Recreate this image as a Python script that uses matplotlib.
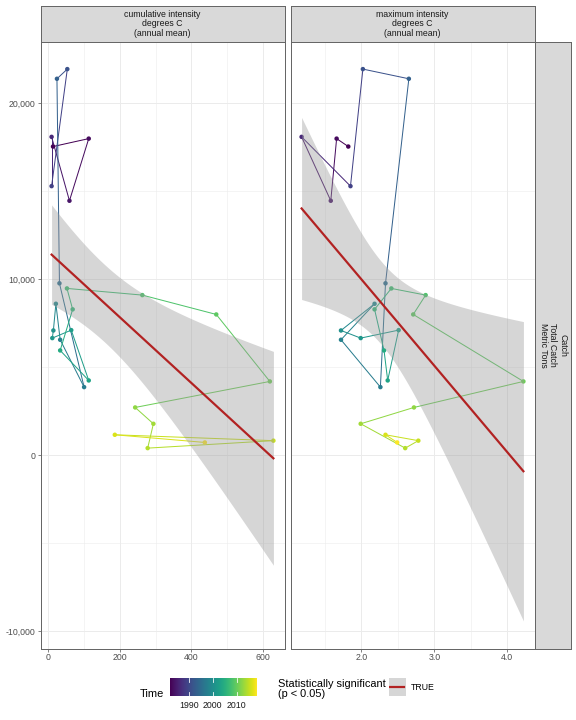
import numpy as np
import matplotlib
matplotlib.use('Agg')
import matplotlib.pyplot as plt
from matplotlib.collections import LineCollection
from matplotlib.colors import Normalize
from matplotlib.ticker import FuncFormatter, FixedLocator

plt.rcParams['font.family'] = ['Liberation Sans', 'DejaVu Sans']

# 数据（按时间顺序）
years = [1982, 1983, 1984, 1986, 1989, 1991, 1993, 1995, 1997, 1998, 1999, 2000, 2001,
         2002, 2003, 2004, 2006, 2007, 2008, 2009, 2010, 2012, 2013, 2014, 2015, 2016, 2018]
catch = [17550, 18000, 14470, 18100, 15300, 21950, 21400, 9780, 3883, 6572, 8617, 7100, 6667,
         7120, 4261, 5966, 8300, 9489, 9110, 8011, 4205, 2727, 1799, 416, 840, 1174, 739]
cum_intensity = [13, 113, 59, 9, 9, 53, 24, 31, 100, 33, 21, 14, 11,
                 64, 113, 33, 68, 52, 263, 470, 620, 243, 294, 278, 630, 186, 438]
max_intensity = [1.82, 1.66, 1.58, 1.18, 1.85, 2.02, 2.65, 2.33, 2.26, 1.72, 2.18, 1.72, 1.99,
                 2.51, 2.36, 2.31, 2.18, 2.41, 2.88, 2.71, 4.22, 2.72, 1.99, 2.60, 2.78, 2.33, 2.49]

panel_titles = ['cumulative intensity\ndegrees C\n(annual mean)',
                'maximum intensity\ndegrees C\n(annual mean)']
row_title = 'Catch\nTotal Catch\nMetric Tons'
x_ticks = [[0, 200, 400, 600], [2.0, 3.0, 4.0]]
x_minor = [[100, 300, 500], [1.5, 2.5, 3.5]]
y_ticks = [-10000, 0, 10000, 20000]
y_minor = [-5000, 5000, 15000]
cbar_ticks = [1990, 2000, 2010]

W, H = 576, 720
GRID = '#ebebeb'
DARK = '#333333'
BORDER = '#666666'
TXT = '#4d4d4d'


def fit_band(x, y, n_grid=80):
    # 线性回归 + 95% 置信区间
    x = np.asarray(x, float)
    y = np.asarray(y, float)
    n = len(x)
    b1, b0 = np.polyfit(x, y, 1)
    resid = y - (b0 + b1 * x)
    s2 = np.sum(resid ** 2) / (n - 2)
    xs = np.linspace(x.min(), x.max(), n_grid)
    fit = b0 + b1 * xs
    se = np.sqrt(s2 * (1 / n + (xs - x.mean()) ** 2 / np.sum((x - x.mean()) ** 2)))
    t = 2.0595  # t(0.975, df=25)
    return xs, fit, fit - t * se, fit + t * se


def box(px0, py0, px1, py1):
    return [px0 / W, 1 - py1 / H, (px1 - px0) / W, (py1 - py0) / H]


fig = plt.figure(figsize=(8, 10), dpi=72)

xs_list = [cum_intensity, max_intensity]
bands = [fit_band(x, catch) for x in xs_list]

lo = min(min(catch), min(b[2].min() for b in bands))
hi = max(max(catch), max(b[3].max() for b in bands))
pad = 0.05 * (hi - lo)
ylim = (lo - pad, hi + pad)

norm = Normalize(min(years), max(years))
cmap = plt.get_cmap('viridis')
colors = cmap(norm(np.array(years)))

panel_px = [(40.5, 284.5), (290.5, 534.5)]
top_px, bot_px = 41.5, 648.5

for i, (x, (xs, fit, lower, upper)) in enumerate(zip(xs_list, bands)):
    ax = fig.add_axes(box(panel_px[i][0], top_px, panel_px[i][1], bot_px))
    x = np.asarray(x, float)
    xr = x.max() - x.min()
    ax.set_xlim(x.min() - 0.05 * xr, x.max() + 0.05 * xr)
    ax.set_ylim(*ylim)

    # 网格线
    for v in x_minor[i]:
        ax.axvline(v, color=GRID, lw=0.5, zorder=0)
    for v in y_minor:
        ax.axhline(v, color=GRID, lw=0.5, zorder=0)
    for v in x_ticks[i]:
        ax.axvline(v, color=GRID, lw=1.0, zorder=0)
    for v in y_ticks:
        ax.axhline(v, color=GRID, lw=1.0, zorder=0)

    # 时间路径
    pts = np.column_stack([x, catch])
    segs = np.stack([pts[:-1], pts[1:]], axis=1)
    lc = LineCollection(segs, colors=colors[:-1], linewidths=1.0, zorder=2)
    ax.add_collection(lc)
    ax.scatter(x, catch, c=colors, s=20, zorder=3, linewidths=0)

    # 回归线与置信带
    ax.fill_between(xs, lower, upper, color='#999999', alpha=0.4, lw=0, zorder=4)
    ax.plot(xs, fit, color='#B22222', lw=2.2, zorder=5)

    ax.xaxis.set_major_locator(FixedLocator(x_ticks[i]))
    if i == 0:
        ax.xaxis.set_major_formatter(FuncFormatter(lambda v, p: f'{v:.0f}'))
    else:
        ax.xaxis.set_major_formatter(FuncFormatter(lambda v, p: f'{v:.1f}'))
    ax.yaxis.set_major_locator(FixedLocator(y_ticks))
    ax.yaxis.set_major_formatter(FuncFormatter(lambda v, p: f'{v:,.0f}'.replace('\u2212', '-')))
    ax.tick_params(axis='both', length=2.75, width=0.6, color=DARK, labelsize=8.8,
                   labelcolor=TXT, pad=2.2)
    if i == 1:
        ax.tick_params(axis='y', left=False, labelleft=False)
    for s in ax.spines.values():
        s.set_color(BORDER)
        s.set_linewidth(1.0)

    # 顶部 strip
    sax = fig.add_axes(box(panel_px[i][0], 6, panel_px[i][1], top_px))
    sax.set_facecolor('#d9d9d9')
    sax.set_xticks([])
    sax.set_yticks([])
    for s in sax.spines.values():
        s.set_color(BORDER)
        s.set_linewidth(1.0)
    sax.text(0.5, 0.5, panel_titles[i], ha='center', va='center', fontsize=8.8,
             color='#1a1a1a', linespacing=1.1, transform=sax.transAxes)

# 右侧 strip
rax = fig.add_axes(box(535, top_px, 571, bot_px))
rax.set_facecolor('#d9d9d9')
rax.set_xticks([])
rax.set_yticks([])
for s in rax.spines.values():
    s.set_color(BORDER)
    s.set_linewidth(1.0)
rax.text(0.5, 0.5, row_title, ha='center', va='center', rotation=-90, fontsize=8.8,
         color='#1a1a1a', linespacing=1.1, transform=rax.transAxes)

# 颜色条图例
cax = fig.add_axes(box(169.5, 678, 256, 696))
grad = np.linspace(min(years), max(years), 256).reshape(1, -1)
cax.imshow(grad, aspect='auto', cmap=cmap, norm=norm,
           extent=[min(years), max(years), 0, 1])
for t in cbar_ticks:
    cax.plot([t, t], [0, 0.2], color='white', lw=0.8)
    cax.plot([t, t], [0.8, 1], color='white', lw=0.8)
    cax.text(t, -0.25, str(t), ha='center', va='top', fontsize=8.8, color='#1a1a1a')
cax.set_xlim(min(years), max(years))
cax.set_ylim(0, 1)
cax.axis('off')
fig.text(164 / W, 1 - 694 / H, 'Time', ha='right', va='center', fontsize=11)

# 显著性图例
fig.text(278 / W, 1 - 689 / H, 'Statistically significant\n(p < 0.05)', ha='left',
         va='center', fontsize=11, linespacing=1.0)
kax = fig.add_axes(box(388.5, 678, 406, 696))
kax.set_facecolor('#d6d6d6')
kax.plot([0.1, 0.9], [0.5, 0.5], color='#B22222', lw=2.2)
kax.set_xlim(0, 1)
kax.set_ylim(0, 1)
kax.set_xticks([])
kax.set_yticks([])
for s in kax.spines.values():
    s.set_visible(False)
fig.text(411 / W, 1 - 687 / H, 'TRUE', ha='left', va='center', fontsize=8.8)

plt.savefig('out.png', dpi=72, facecolor='white')
plt.close()
